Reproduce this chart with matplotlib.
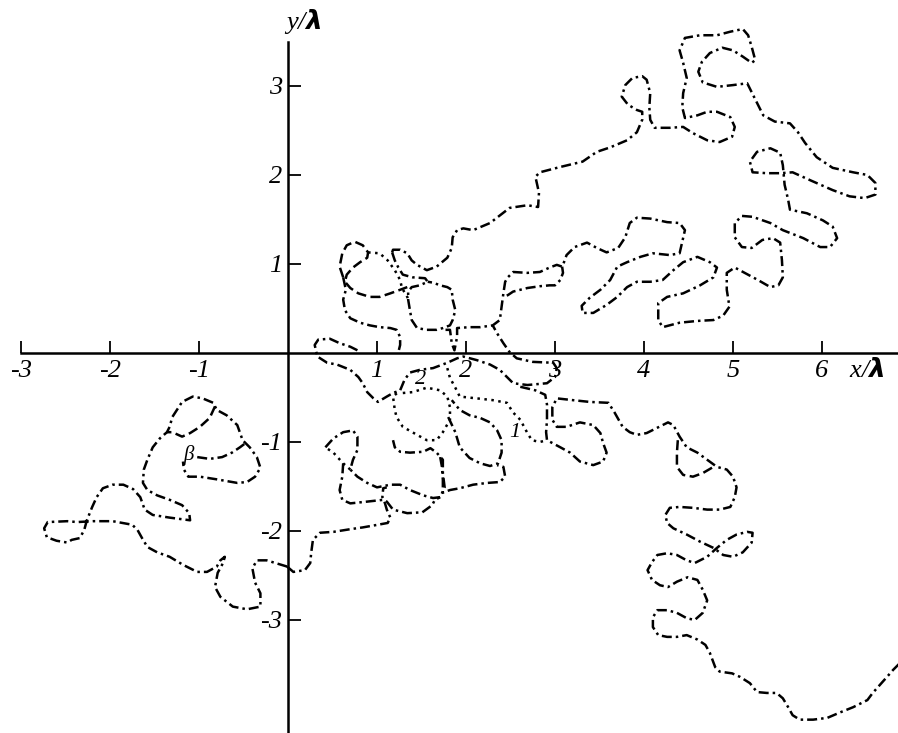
import numpy as np
import matplotlib.pyplot as plt

plt.rcParams.update({
    "font.family": ["Liberation Serif", "DejaVu Serif"],
    "font.style": "italic",
    "axes.unicode_minus": False,
})

# digitised pieces of the trajectories, points as (x/lambda, y/lambda)
south_west = [
    (-0.01, -2.40), (-0.24, -2.33), (-0.35, -2.33), (-0.40, -2.42), (-0.37, -2.58),
    (-0.31, -2.70), (-0.31, -2.85), (-0.46, -2.88), (-0.62, -2.85), (-0.76, -2.74),
    (-0.82, -2.63), (-0.79, -2.47), (-0.73, -2.36), (-0.71, -2.29), (-0.76, -2.33),
    (-0.80, -2.40), (-0.91, -2.46), (-1.02, -2.46), (-1.18, -2.38), (-1.33, -2.29),
    (-1.47, -2.24), (-1.58, -2.18), (-1.64, -2.08), (-1.69, -1.99), (-1.75, -1.93),
    (-1.97, -1.89), (-2.19, -1.89), (-2.37, -1.90), (-2.48, -1.89), (-2.70, -1.90),
    (-2.74, -1.97), (-2.71, -2.07), (-2.60, -2.11), (-2.48, -2.13), (-2.43, -2.10),
    (-2.34, -2.08), (-2.29, -1.99), (-2.26, -1.88), (-2.20, -1.73), (-2.15, -1.62),
    (-2.08, -1.52), (-1.97, -1.48), (-1.85, -1.48), (-1.74, -1.53), (-1.66, -1.62),
    (-1.61, -1.76), (-1.52, -1.82), (-1.33, -1.85), (-1.10, -1.88), (-1.11, -1.80),
    (-1.19, -1.71), (-1.33, -1.65), (-1.47, -1.60), (-1.58, -1.54), (-1.63, -1.46),
    (-1.62, -1.31), (-1.58, -1.20), (-1.52, -1.06), (-1.44, -0.96), (-1.36, -0.89),
    (-1.33, -0.83), (-1.30, -0.72), (-1.19, -0.55), (-1.07, -0.49), (-0.96, -0.51),
    (-0.84, -0.56), (-0.80, -0.64), (-0.69, -0.70), (-0.57, -0.81), (-0.51, -0.98),
    (-0.43, -1.06), (-0.35, -1.17), (-0.31, -1.29), (-0.37, -1.39), (-0.46, -1.45),
    (-0.57, -1.46), (-0.80, -1.42), (-0.99, -1.39), (-1.12, -1.39), (-1.17, -1.31),
    (-1.18, -1.22),
]
beta_inner = [
    (-1.02, -1.17), (-0.88, -1.19), (-0.74, -1.17), (-0.63, -1.12), (-0.54, -1.06),
    (-0.46, -1.00),
]
beta_arc = [
    (-0.82, -0.60), (-0.88, -0.73), (-0.99, -0.83), (-1.10, -0.90), (-1.19, -0.94),
    (-1.30, -0.89), (-1.36, -0.89),
]
axis_link = [
    (-0.01, -2.40), (0.06, -2.46), (0.19, -2.44), (0.25, -2.36), (0.26, -2.25),
    (0.28, -2.10), (0.36, -2.02), (0.51, -2.01), (0.70, -1.98), (0.84, -1.96),
    (1.01, -1.93), (1.12, -1.91), (1.15, -1.85), (1.11, -1.76), (1.09, -1.69),
    (1.06, -1.62), (1.07, -1.52), (1.11, -1.51),
]

loop_a = [
    (0.62, 0.85), (0.58, 0.97), (0.61, 1.12), (0.66, 1.21), (0.75, 1.25), (0.84, 1.21),
    (0.90, 1.13), (0.89, 1.07), (0.81, 1.02), (0.73, 0.96), (0.66, 0.88), (0.64, 0.80),
    (0.70, 0.73), (0.79, 0.67), (0.92, 0.63), (1.03, 0.63), (1.15, 0.67), (1.26, 0.71),
    (1.34, 0.74),
]
loop_a_dots = [
    (0.90, 1.13), (1.03, 1.12), (1.12, 1.04), (1.20, 0.93), (1.26, 0.82), (1.28, 0.73),
    (1.34, 0.63), (1.35, 0.60),
]
loop_a_low = [
    (0.62, 0.85), (0.65, 0.71), (0.62, 0.60), (0.64, 0.48), (0.70, 0.39), (0.81, 0.34),
    (0.92, 0.31), (1.03, 0.29), (1.15, 0.28), (1.22, 0.26), (1.26, 0.18), (1.26, 0.09),
    (1.24, 0.01),
]
loop_b = [
    (1.17, 1.13), (1.20, 1.04), (1.24, 0.96), (1.29, 0.88), (1.40, 0.85), (1.54, 0.84),
    (1.57, 0.80), (1.48, 0.76), (1.39, 0.74), (1.35, 0.69), (1.35, 0.60), (1.37, 0.48),
    (1.39, 0.37), (1.45, 0.28), (1.56, 0.26), (1.67, 0.26), (1.74, 0.28), (1.82, 0.31),
    (1.85, 0.37), (1.88, 0.48), (1.85, 0.60), (1.84, 0.71), (1.79, 0.74), (1.71, 0.76),
    (1.63, 0.79), (1.57, 0.80),
]

north_east = [
    (1.17, 1.13), (1.18, 1.16), (1.26, 1.16), (1.34, 1.12), (1.39, 1.04), (1.45, 0.99),
    (1.56, 0.93), (1.67, 0.97), (1.79, 1.07), (1.84, 1.18), (1.85, 1.30), (1.90, 1.38),
    (1.97, 1.40), (2.08, 1.38), (2.27, 1.46), (2.49, 1.63), (2.69, 1.66), (2.81, 1.64),
    (2.82, 1.80), (2.78, 1.98), (2.83, 2.03), (3.06, 2.09), (3.31, 2.15), (3.47, 2.26),
    (3.62, 2.31), (3.81, 2.39), (3.92, 2.48), (3.98, 2.62), (3.98, 2.71), (3.92, 2.73),
    (3.82, 2.79), (3.75, 2.88), (3.79, 3.01), (3.87, 3.09), (3.98, 3.11), (4.03, 3.07),
    (4.07, 2.92), (4.06, 2.76), (4.07, 2.62), (4.12, 2.53), (4.29, 2.53), (4.44, 2.54),
    (4.55, 2.47), (4.71, 2.39), (4.85, 2.37), (4.99, 2.43), (5.02, 2.54), (4.97, 2.65),
    (4.82, 2.71), (4.71, 2.71), (4.60, 2.67), (4.46, 2.64), (4.43, 2.76), (4.44, 2.92),
    (4.48, 3.09), (4.44, 3.26), (4.40, 3.40), (4.46, 3.54), (4.63, 3.57), (4.82, 3.57),
    (4.97, 3.61), (5.11, 3.64), (5.17, 3.57), (5.21, 3.44), (5.25, 3.29), (5.21, 3.26),
    (5.11, 3.33), (5.00, 3.40), (4.88, 3.43), (4.74, 3.37), (4.65, 3.27), (4.61, 3.16),
    (4.66, 3.04), (4.82, 2.99), (5.00, 3.01), (5.16, 3.03), (5.21, 2.93), (5.27, 2.81),
    (5.34, 2.67), (5.47, 2.60), (5.64, 2.58), (5.73, 2.48), (5.81, 2.36), (5.94, 2.20),
    (6.12, 2.08), (6.35, 2.03), (6.51, 2.00), (6.60, 1.91), (6.60, 1.78), (6.48, 1.74),
    (6.31, 1.76), (6.12, 1.83), (5.87, 1.94), (5.67, 2.03), (5.53, 2.02), (5.38, 2.02),
    (5.22, 2.03), (5.19, 2.15), (5.27, 2.26), (5.42, 2.30), (5.53, 2.25), (5.56, 2.11),
    (5.58, 1.89), (5.62, 1.72), (5.64, 1.61), (5.83, 1.57), (6.01, 1.49), (6.12, 1.42),
    (6.17, 1.29), (6.09, 1.19), (5.98, 1.19), (5.79, 1.29), (5.56, 1.38), (5.42, 1.46),
    (5.22, 1.53), (5.10, 1.54), (5.02, 1.46), (5.02, 1.30), (5.10, 1.19), (5.21, 1.18),
    (5.33, 1.27), (5.45, 1.29), (5.53, 1.24), (5.55, 1.04), (5.56, 0.85), (5.51, 0.76),
    (5.42, 0.74), (5.28, 0.82), (5.13, 0.90), (5.02, 0.96), (4.93, 0.90), (4.93, 0.71),
    (4.96, 0.52), (4.89, 0.42), (4.78, 0.37), (4.60, 0.36), (4.40, 0.34), (4.21, 0.29),
    (4.16, 0.37), (4.16, 0.56), (4.26, 0.63), (4.44, 0.67), (4.63, 0.76), (4.78, 0.85),
    (4.82, 0.96), (4.74, 1.02), (4.60, 1.08), (4.44, 1.02), (4.33, 0.93), (4.21, 0.82),
    (4.07, 0.80), (3.92, 0.80), (3.81, 0.74), (3.70, 0.63), (3.58, 0.54), (3.43, 0.45),
    (3.31, 0.45), (3.30, 0.53), (3.39, 0.62), (3.51, 0.71), (3.62, 0.82), (3.70, 0.97),
    (3.81, 1.02), (3.96, 1.08), (4.10, 1.12), (4.29, 1.10), (4.40, 1.12), (4.46, 1.38),
    (4.40, 1.46), (4.26, 1.47), (4.07, 1.51), (3.92, 1.52), (3.84, 1.46), (3.79, 1.30),
    (3.71, 1.18), (3.58, 1.13), (3.47, 1.18), (3.36, 1.24), (3.22, 1.19), (3.13, 1.10),
    (3.09, 0.99), (3.08, 0.97), (3.02, 0.99), (2.94, 0.96), (2.83, 0.91), (2.69, 0.90),
    (2.53, 0.91), (2.47, 0.85), (2.44, 0.80), (2.42, 0.67), (2.40, 0.52), (2.38, 0.37),
    (2.30, 0.31), (2.16, 0.29), (2.04, 0.29), (1.90, 0.28), (1.90, 0.18), (1.87, 0.03),
    (1.84, 0.11), (1.82, 0.26), (1.74, 0.26),
]
finger_low = [
    (3.08, 0.97), (3.09, 0.90), (3.06, 0.82), (3.00, 0.76), (2.94, 0.76), (2.83, 0.75),
    (2.69, 0.73), (2.53, 0.69), (2.47, 0.65), (2.42, 0.63),
]

centre_1 = [
    (0.78, 0.03), (0.70, 0.07), (0.58, 0.11), (0.47, 0.16), (0.34, 0.15), (0.30, 0.09),
    (0.33, -0.04), (0.44, -0.11), (0.55, -0.13), (0.70, -0.19), (0.79, -0.27),
    (0.84, -0.34), (0.89, -0.44), (0.96, -0.51), (1.01, -0.55), (1.11, -0.49),
    (1.18, -0.45), (1.26, -0.42), (1.31, -0.30), (1.37, -0.22), (1.48, -0.19),
    (1.63, -0.17), (1.79, -0.11), (1.90, -0.06), (1.97, -0.04), (2.12, -0.08),
    (2.27, -0.13), (2.38, -0.19), (2.46, -0.27), (2.53, -0.34), (2.69, -0.36),
    (2.91, -0.34), (3.00, -0.27), (3.02, -0.17), (2.98, -0.11), (2.75, -0.10),
    (2.57, -0.06), (2.49, 0.01), (2.42, 0.11), (2.35, 0.22), (2.30, 0.31),
]
south_east = [
    (2.61, -0.38), (2.78, -0.42), (2.89, -0.47), (2.91, -0.58), (2.91, -0.75),
    (2.90, -0.89), (2.91, -0.98), (3.06, -1.06), (3.17, -1.12), (3.28, -1.22),
    (3.43, -1.26), (3.54, -1.22), (3.58, -1.12), (3.54, -1.01), (3.51, -0.90),
    (3.43, -0.81), (3.28, -0.78), (3.13, -0.83), (3.02, -0.83), (2.97, -0.75),
    (2.97, -0.61), (3.02, -0.51), (3.20, -0.53), (3.39, -0.55), (3.60, -0.56),
    (3.67, -0.67), (3.76, -0.83), (3.84, -0.89), (3.92, -0.92), (4.03, -0.90),
    (4.15, -0.84), (4.27, -0.78), (4.33, -0.81), (4.40, -0.94), (4.48, -1.06),
    (4.60, -1.12), (4.71, -1.20), (4.82, -1.28), (4.93, -1.31), (5.00, -1.39),
    (5.04, -1.51), (5.02, -1.62), (4.97, -1.73), (4.85, -1.76), (4.71, -1.76),
    (4.55, -1.74), (4.40, -1.73), (4.29, -1.74), (4.24, -1.82), (4.26, -1.91),
    (4.33, -1.97), (4.48, -2.04), (4.63, -2.12), (4.78, -2.19), (4.89, -2.27),
    (5.00, -2.29), (5.11, -2.24), (5.21, -2.13), (5.22, -2.02), (5.16, -2.01),
    (5.04, -2.04), (4.93, -2.10), (4.82, -2.19), (4.71, -2.29), (4.57, -2.36),
    (4.48, -2.33), (4.37, -2.27), (4.26, -2.25), (4.15, -2.27), (4.09, -2.35),
    (4.04, -2.44), (4.09, -2.55), (4.18, -2.61), (4.27, -2.63), (4.37, -2.57),
    (4.49, -2.52), (4.60, -2.55), (4.66, -2.66), (4.71, -2.78), (4.66, -2.92),
    (4.57, -3.00), (4.48, -2.98), (4.37, -2.92), (4.26, -2.89), (4.15, -2.89),
    (4.10, -2.97), (4.10, -3.08), (4.16, -3.17), (4.26, -3.19), (4.37, -3.19),
    (4.48, -3.17), (4.60, -3.22), (4.69, -3.28), (4.74, -3.37), (4.80, -3.53),
    (4.85, -3.58), (4.99, -3.60), (5.08, -3.64), (5.19, -3.71), (5.27, -3.81),
    (5.38, -3.82), (5.49, -3.82), (5.56, -3.88), (5.62, -3.98), (5.67, -4.07),
    (5.75, -4.12), (5.90, -4.12), (6.06, -4.10), (6.20, -4.04), (6.35, -3.98),
    (6.51, -3.90), (6.57, -3.82), (6.65, -3.73), (6.73, -3.64), (6.80, -3.56),
    (6.88, -3.48),
]
triangle_side = [
    (4.38, -0.98), (4.37, -1.12), (4.37, -1.28), (4.44, -1.37), (4.55, -1.39),
    (4.66, -1.35), (4.78, -1.28),
]
cross_dots = [
    (1.79, -0.17), (1.82, -0.28), (1.88, -0.39), (1.93, -0.49), (2.12, -0.51),
    (2.30, -0.53), (2.46, -0.56), (2.53, -0.67), (2.61, -0.75), (2.69, -0.90),
    (2.74, -0.98), (2.83, -1.00), (2.91, -0.98),
]
circle_1 = [
    (1.29, -0.45), (1.40, -0.44), (1.56, -0.39), (1.71, -0.42), (1.79, -0.49),
    (1.82, -0.61), (1.82, -0.75), (1.74, -0.89), (1.67, -0.98), (1.56, -0.98),
    (1.45, -0.92), (1.29, -0.83), (1.22, -0.72), (1.20, -0.64), (1.18, -0.49),
    (1.26, -0.42),
]
ellipse_2 = [
    (1.80, -0.72), (1.88, -0.89), (1.93, -1.06), (2.04, -1.18), (2.16, -1.24),
    (2.27, -1.27), (2.36, -1.24), (2.40, -1.12), (2.40, -0.98), (2.35, -0.87),
    (2.27, -0.78), (2.16, -0.73), (2.04, -0.70), (1.93, -0.64), (1.84, -0.53),
]
bottom_loop = [
    (1.71, -1.17), (1.73, -1.28), (1.74, -1.43), (1.74, -1.57), (1.82, -1.54),
    (1.93, -1.52), (2.08, -1.48), (2.24, -1.46), (2.38, -1.45), (2.44, -1.39),
    (2.42, -1.28), (2.35, -1.26),
]
left_cluster = [
    (0.42, -1.06), (0.51, -0.96), (0.62, -0.89), (0.73, -0.87), (0.78, -0.94),
    (0.78, -1.09), (0.73, -1.20), (0.70, -1.31), (0.78, -1.39), (0.89, -1.46),
    (1.00, -1.51), (1.15, -1.48), (1.26, -1.48), (1.37, -1.54), (1.52, -1.60),
    (1.63, -1.63), (1.71, -1.62), (1.76, -1.51), (1.74, -1.35), (1.74, -1.20),
    (1.67, -1.12), (1.60, -1.07), (1.52, -1.11), (1.37, -1.12), (1.26, -1.11),
    (1.20, -1.06), (1.18, -0.98),
]
left_cluster_side = [
    (0.70, -1.31), (0.62, -1.24), (0.51, -1.12), (0.42, -1.06),
]
left_cluster_low = [
    (0.62, -1.24), (0.61, -1.39), (0.58, -1.54), (0.61, -1.65), (0.70, -1.69),
    (0.89, -1.67), (1.07, -1.65), (1.11, -1.67), (1.18, -1.76), (1.34, -1.80),
    (1.51, -1.79), (1.62, -1.71), (1.65, -1.65), (1.71, -1.62),
]

DASHDOT = (0, (4, 1.6, 1, 1.6))
DOTTED = (0, (1, 1.8))
DASHED = (0, (4, 1.8))

PIECES = [
    (south_west, DASHDOT), (beta_inner, DASHDOT), (beta_arc, DASHED),
    (axis_link, DASHDOT), (loop_a, DASHED), (loop_a_dots, DOTTED),
    (loop_a_low, DASHDOT), (loop_b, DASHDOT), (north_east, DASHDOT),
    (finger_low, DASHDOT), (centre_1, DASHDOT), (south_east, DASHDOT),
    (triangle_side, DASHED), (cross_dots, DOTTED), (circle_1, DOTTED),
    (ellipse_2, DASHDOT), (bottom_loop, DASHDOT), (left_cluster, DASHDOT),
    (left_cluster_side, DOTTED), (left_cluster_low, DASHDOT),
]

x_ticks = [-3, -2, -1, 1, 2, 3, 4, 5, 6]
y_ticks = [-3, -2, -1, 1, 2, 3]

fig = plt.figure(figsize=(8.98, 7.33), dpi=100)
ax = fig.add_axes([0, 0, 1, 1])

for pts, style in PIECES:
    arr = np.array(pts)
    ax.plot(arr[:, 0], arr[:, 1], color="black", lw=1.8, linestyle=style,
            solid_capstyle="butt", dash_capstyle="butt")

ax.set_xlim(-3.236, 6.854)
ax.set_ylim(-4.27, 3.966)

for side in ["top", "right"]:
    ax.spines[side].set_visible(False)
ax.spines["left"].set_position(("data", 0))
ax.spines["bottom"].set_position(("data", 0))
ax.spines["left"].set_bounds(-4.27, 3.49)
ax.spines["bottom"].set_bounds(-3.0, 6.854)
for side in ["left", "bottom"]:
    ax.spines[side].set_linewidth(1.8)

ax.set_xticks(x_ticks)
ax.set_yticks(y_ticks)
ax.set_xticklabels([str(v) for v in x_ticks])
ax.set_yticklabels([str(v) for v in y_ticks])
ax.tick_params(axis="x", direction="in", length=9, width=1.3, pad=5, labelsize=19)
ax.tick_params(axis="y", direction="in", length=9, width=1.3, pad=4, labelsize=19)

ax.text(6.50, -0.19, r"x/$\mathbf{\lambda}$", fontsize=19, ha="center", va="center")
ax.text(0.16, 3.72, r"y/$\mathbf{\lambda}$", fontsize=19, ha="center", va="center")
ax.text(1.49, -0.30, "2", fontsize=16, ha="center", va="center")
ax.text(2.55, -0.89, "1", fontsize=16, ha="center", va="center")
ax.text(-1.12, -1.15, "β", fontsize=15, ha="center", va="center")

fig.savefig("out.png", dpi=100)
